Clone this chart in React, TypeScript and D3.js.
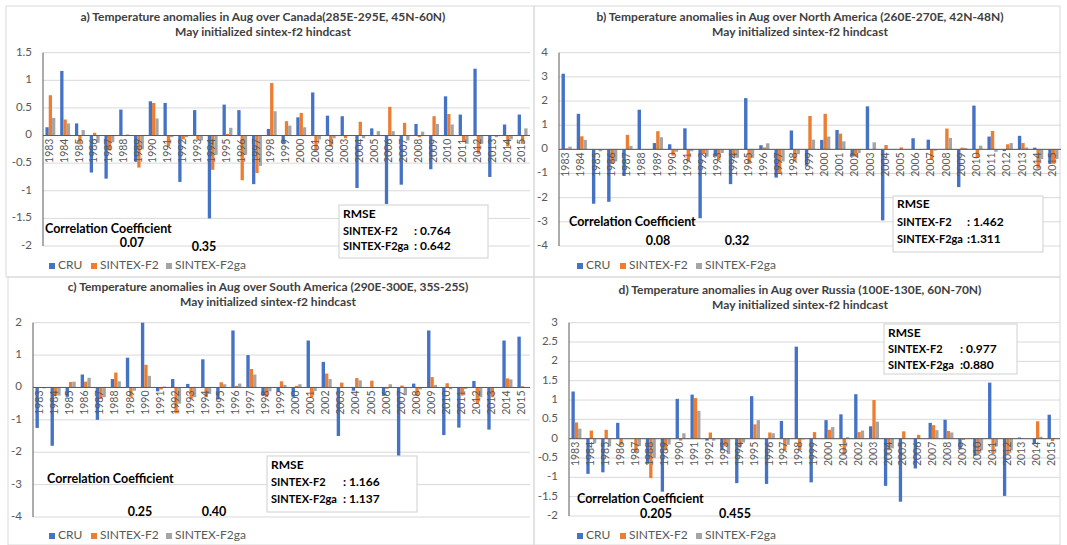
import * as d3 from "d3";

const years = [
  "1983", "1984", "1985", "1986", "1987", "1988", "1989", "1990", "1991", "1992", "1993",
  "1994", "1995", "1996", "1997", "1998", "1999", "2000", "2001", "2002", "2003", "2004",
  "2005", "2006", "2007", "2008", "2009", "2010", "2011", "2012", "2013", "2014", "2015",
];
const seriesNames = ["CRU", "SINTEX-F2", "SINTEX-F2ga"];
const colors = ["#4472C4", "#ED7D31", "#A5A5A5"];

// a) Canada
const canadaCru = [0.15, 1.17, 0.22, -0.67, -0.78, 0.47, -0.47, 0.62, 0.59, -0.84, 0.46, -1.5, 0.56, 0.46, -0.88, 0.12, -0.14, 0.33, 0.78, 0.36, 0.35, -0.95, 0.13, -1.24, -0.89, 0.21, -0.61, 0.71, 0.38, 1.21, -0.75, 0.2, 0.38];
const canadaF2 = [0.73, 0.29, -0.16, 0.05, -0.27, 0, -0.58, 0.59, -0.2, -0.07, -0.07, -0.62, 0.03, -0.81, -0.68, 0.95, 0.26, 0.41, -0.27, -0.2, -0.05, 0.25, 0, 0.52, 0.23, -0.03, 0.35, 0.39, -0.12, -0.33, 0, -0.2, -0.15];
const canadaGa = [0.32, 0.22, 0.1, -0.13, -0.12, 0.02, -0.25, 0.31, -0.03, -0.03, -0.09, -0.35, 0.14, -0.35, -0.55, 0.44, 0.18, 0.15, -0.07, -0.05, 0, -0.05, 0.08, 0.08, -0.09, 0.07, 0.21, 0.2, -0.15, -0.15, -0.03, -0.07, 0.13];
const canadaTicks = [1.5, 1, 0.5, 0, -0.5, -1, -1.5, -2];

// b) North America
const naCru = [3.13, 1.47, -2.25, -2.17, -1.1, 1.64, 0.26, 0.21, 0.87, -2.85, -0.3, -1.44, 2.12, 0.17, -1.17, 0.78, -0.68, 0.39, 0.8, -0.3, 1.78, -2.94, 0, 0.46, 0.4, 0, -1.56, 1.81, 0.53, -0.07, 0.56, 0.07, -0.6];
const naF2 = [0.04, 0.54, 0, -0.6, 0.6, 0, 0.75, -0.26, -0.5, -0.2, -0.45, -0.3, -0.6, 0.08, -1.0, -0.5, 1.38, 1.47, 0.65, -0.3, 0, 0.18, 0.08, 0, -0.4, 0.86, 0.07, -0.33, 0.76, 0.21, 0.26, -0.8, -0.6];
const naGa = [0.11, 0.39, -0.08, -0.5, 0.14, 0, 0.5, -0.1, -0.08, -0.3, -0.15, -0.35, -0.35, 0.25, -0.5, -0.2, 0.4, 0.53, 0.33, -0.15, 0.29, 0, 0, -0.03, -0.05, 0.47, 0.06, 0.15, -0.1, 0.26, 0.08, -0.4, -0.4];
const naTicks = [4, 3, 2, 1, 0, -1, -2, -3, -4];

// c) South America
const saCru = [-1.25, -1.8, -0.29, 0.4, -1.0, 0.26, 0.92, 2.0, -0.12, 0.26, 0.11, 0.87, -0.37, 1.76, 1.0, -0.25, -0.14, -0.29, 1.45, 0.79, -1.5, -0.1, 0, -0.26, -2.11, 0.12, 1.76, -1.47, -1.24, 0.2, -1.3, 1.45, 1.57];
const saF2 = [0, -0.25, 0.17, 0.18, -0.35, 0.46, -0.29, 0.7, -0.06, -0.8, -0.35, -0.3, 0.16, 0.05, 0.57, -0.3, 0.19, 0.05, -0.3, 0.43, 0.15, 0.29, 0.21, -0.04, 0.06, -0.27, 0.32, 0.13, -0.25, -0.5, -0.3, 0.28, 0.04];
const saGa = [-0.03, -0.25, 0.18, 0.3, -0.3, 0.19, -0.1, 0.36, 0.03, -0.5, -0.3, -0.2, 0.1, 0.12, 0.4, -0.12, 0.08, 0.1, -0.11, 0.26, 0, 0.22, 0, 0.1, -0.24, -0.06, 0.08, -0.06, -0.05, -0.3, 0, 0.25, 0];
const saTicks = [2, 1, 0, -1, -2, -3, -4];

// d) Russia
const ruCru = [1.22, -0.91, -0.87, 0.41, 0, -0.65, -1.37, 1.03, 1.14, -0.05, -0.3, -1.15, 1.1, -1.17, 0.46, 2.38, -1.13, 0.48, 0.63, 1.15, 0.32, -1.22, -1.63, -0.77, 0.41, 0.49, -0.27, -0.44, 1.45, -1.48, 0.03, -0.12, 0.62];
const ruF2 = [0.42, 0.21, 0.23, -0.16, -0.35, -1.02, -0.3, -0.05, 1.05, 0.16, -0.2, -0.2, 0.37, 0.16, -0.3, -0.3, 0.17, 0.23, -0.4, 0.17, 1.0, -0.3, 0.19, 0.1, 0.35, 0.2, -0.03, -0.4, -0.4, -0.4, 0.01, 0.45, -0.06];
const ruGa = [0.26, -0.12, -0.2, 0, -0.19, -0.5, -0.15, 0.14, 0.72, -0.05, -0.4, -0.1, 0.48, 0.14, -0.16, -0.02, 0, 0.3, 0.04, 0.21, 0.44, -0.25, 0, 0, 0.22, 0.16, 0, -0.3, -0.2, -0.3, 0, 0.05, 0];
const ruTicks = [3, 2.5, 2, 1.5, 1, 0.5, 0, -0.5, -1, -1.5, -2];

const FONT = "Lato, 'Open Sans', sans-serif";
const GRAY = "#595959";

type Layout = {
  axisX: number; right: number; yTop: number; yBottom: number; tickX: number;
  titleX: number; titleY: number;
  corrX: number; corrY: number; corrVals: [number, number][];
  box: [number, number, number, number]; rmseY: number[]; colonX: number;
  legendY: number; legendX: number[];
};

function Panel({ title, series, ticks, corr, rmse, L }: {
  title: string; series: number[][]; ticks: number[]; corr: string[]; rmse: string[]; L: Layout;
}) {
  const y = d3.scaleLinear().domain([ticks[ticks.length - 1], ticks[0]]).range([L.yBottom, L.yTop]);
  const x = d3.scaleBand().domain(years).range([L.axisX, L.right]).paddingInner(0.33).paddingOuter(0.165);
  const xs = d3.scaleBand().domain(seriesNames).range([0, x.bandwidth()]);
  const y0 = y(0);
  return (
    <g fontFamily={FONT}>
      <text x={L.titleX} y={L.titleY} textAnchor="middle" dominantBaseline="middle" fontSize={12} fontWeight="bold" fill="#404040">{title}</text>
      <text x={L.titleX} y={L.titleY + 15} textAnchor="middle" dominantBaseline="middle" fontSize={12} fontWeight="bold" fill="#404040">May initialized sintex-f2 hindcast</text>
      {ticks.map((t) => (
        <g key={t}>
          <line x1={L.axisX} x2={L.right} y1={y(t)} y2={y(t)} stroke="#d9d9d9" strokeWidth={1} />
          <text x={L.tickX} y={y(t)} textAnchor="end" dominantBaseline="middle" fontSize={11.5} fill={GRAY}>{String(t)}</text>
        </g>
      ))}
      {series.map((vals, si) =>
        vals.map((v, i) => (
          <rect key={si + "-" + i}
            x={(x(years[i]) as number) + (xs(seriesNames[si]) as number)}
            y={Math.min(y(v), y0)}
            width={xs.bandwidth()}
            height={Math.abs(y(v) - y0)}
            fill={colors[si]} />
        ))
      )}
      <line x1={L.axisX} x2={L.right} y1={y0} y2={y0} stroke="#595959" strokeWidth={1} />
      <line x1={L.axisX} x2={L.axisX} y1={L.yTop} y2={L.yBottom} stroke="#595959" strokeWidth={1} />
      {years.map((yr) => {
        const cx = (x(yr) as number) + x.bandwidth() / 2;
        return (
          <text key={yr} transform={`translate(${cx},${y0 + 3}) rotate(-90)`} textAnchor="end" dominantBaseline="middle" fontSize={10.5} fill={GRAY}>{yr}</text>
        );
      })}
      <text x={L.corrX} y={L.corrY} fontSize={12.5} fontWeight="bold" fill="#000">Correlation Coefficient</text>
      {corr.map((c, i) => (
        <text key={c + i} x={L.corrVals[i][0]} y={L.corrVals[i][1]} textAnchor="middle" fontSize={12.5} fontWeight="bold" fill="#000">{c}</text>
      ))}
      <rect x={L.box[0]} y={L.box[1]} width={L.box[2]} height={L.box[3]} fill="#fff" stroke="#d0d0d0" />
      <text x={L.box[0] + 4} y={L.rmseY[0]} fontSize={12} fontWeight="bold" fill="#000">RMSE</text>
      <text x={L.box[0] + 4} y={L.rmseY[1]} fontSize={11} fontWeight="bold" fill="#000">SINTEX-F2</text>
      <text x={L.colonX} y={L.rmseY[1]} fontSize={12} fontWeight="bold" fill="#000">{rmse[0]}</text>
      <text x={L.box[0] + 4} y={L.rmseY[2]} fontSize={11} fontWeight="bold" fill="#000">SINTEX-F2ga</text>
      <text x={L.colonX} y={L.rmseY[2]} fontSize={12} fontWeight="bold" fill="#000">{rmse[1]}</text>
      {seriesNames.map((s, i) => (
        <g key={s}>
          <rect x={L.legendX[i]} y={L.legendY - 3} width={6} height={6} fill={colors[i]} />
          <text x={L.legendX[i] + 9} y={L.legendY} dominantBaseline="middle" fontSize={12} fill={GRAY}>{s}</text>
        </g>
      ))}
    </g>
  );
}

export default function App() {
  return (
    <svg width={1067} height={545} style={{ position: "absolute", left: 0, top: 0, background: "#fff" }}>
      <rect x={6} y={6} width={528} height={271} fill="none" stroke="#d9d9d9" />
      <rect x={534} y={6} width={526} height={271} fill="none" stroke="#d9d9d9" />
      <rect x={8} y={277} width={526} height={268} fill="none" stroke="#d9d9d9" />
      <rect x={534} y={277} width={526} height={268} fill="none" stroke="#d9d9d9" />
      <Panel
        title="a) Temperature anomalies in Aug over Canada(285E-295E, 45N-60N)"
        series={[canadaCru, canadaF2, canadaGa]} ticks={canadaTicks}
        corr={["0.07", "0.35"]} rmse={[": 0.764", ": 0.642"]}
        L={{ axisX: 43, right: 530, yTop: 52.7, yBottom: 246, tickX: 32, titleX: 263, titleY: 18,
          corrX: 45, corrY: 233, corrVals: [[132, 247], [204, 251]],
          box: [339, 205, 149, 53], rmseY: [218, 235, 250], colonX: 414,
          legendY: 266, legendX: [49, 91, 166] }} />
      <Panel
        title="b) Temperature anomalies in Aug over North America (260E-270E, 42N-48N)"
        series={[naCru, naF2, naGa]} ticks={naTicks}
        corr={["0.08", "0.32"]} rmse={[": 1.462", ":1.311"]}
        L={{ axisX: 559, right: 1061, yTop: 52.7, yBottom: 246, tickX: 548, titleX: 800, titleY: 18,
          corrX: 569, corrY: 226, corrVals: [[658, 245], [737, 245]],
          box: [893, 196, 150, 56], rmseY: [208, 226, 243], colonX: 967,
          legendY: 266, legendX: [577, 620, 696] }} />
      <Panel
        title="c) Temperature anomalies in Aug over South America  (290E-300E, 35S-25S)"
        series={[saCru, saF2, saGa]} ticks={saTicks}
        corr={["0.25", "0.40"]} rmse={[": 1.166", ": 1.137"]}
        L={{ axisX: 33, right: 530, yTop: 322.7, yBottom: 517, tickX: 22, titleX: 268, titleY: 288,
          corrX: 47, corrY: 483, corrVals: [[140, 516], [214, 516]],
          box: [267, 456, 150, 56], rmseY: [469, 486, 503], colonX: 343,
          legendY: 536, legendX: [49, 91, 166] }} />
      <Panel
        title="d) Temperature anomalies in Aug over Russia (100E-130E, 60N-70N)"
        series={[ruCru, ruF2, ruGa]} ticks={ruTicks}
        corr={["0.205", "0.455"]} rmse={[": 0.977", ":0.880"]}
        L={{ axisX: 569, right: 1060, yTop: 322.7, yBottom: 516, tickX: 558, titleX: 800, titleY: 291,
          corrX: 577, corrY: 503, corrVals: [[656, 518], [735, 518]],
          box: [884, 324, 133, 50], rmseY: [337, 353, 369], colonX: 960,
          legendY: 536, legendX: [577, 620, 696] }} />
    </svg>
  );
}
